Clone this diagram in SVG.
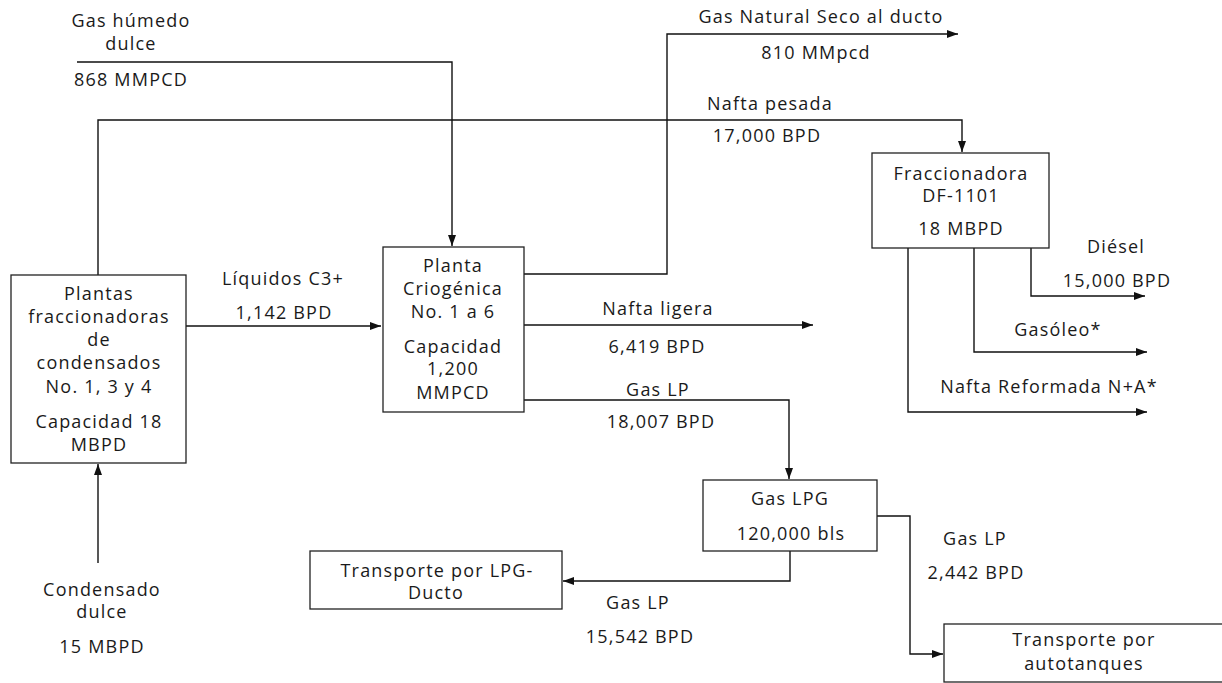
<svg xmlns="http://www.w3.org/2000/svg" width="1222" height="683" viewBox="0 0 1222 683">
<style>
text{font-family:"Open Sans","Noto Sans","Liberation Sans",sans-serif;font-size:18px;letter-spacing:1.2px;fill:#1a1a1a;text-anchor:middle}
.box{fill:#fff;stroke:#222;stroke-width:1.3}
.ln{fill:none;stroke:#111;stroke-width:1.4}
</style>
<defs>
<marker id="ah" markerUnits="userSpaceOnUse" markerWidth="12" markerHeight="8" refX="11" refY="4" orient="auto">
<path d="M0,0 L11,4 L0,8 z" fill="#111"/>
</marker>
</defs>
<rect width="1222" height="683" fill="#fff"/>
<g id="connectors">
<path class="ln" d="M77,62 H452 V246" marker-end="url(#ah)"/>
<path class="ln" d="M98,275 V120 H962 V152" marker-end="url(#ah)"/>
<path class="ln" d="M524,274 H667 V34 H958" marker-end="url(#ah)"/>
<path class="ln" d="M186,326 H381" marker-end="url(#ah)"/>
<path class="ln" d="M524,325 H813" marker-end="url(#ah)"/>
<path class="ln" d="M524,400 H789 V479" marker-end="url(#ah)"/>
<path class="ln" d="M98,563 V464" marker-end="url(#ah)"/>
<path class="ln" d="M790,551 V581 H563" marker-end="url(#ah)"/>
<path class="ln" d="M877,516 H910 V654 H943" marker-end="url(#ah)"/>
<path class="ln" d="M1031,248 V296 H1145" marker-end="url(#ah)"/>
<path class="ln" d="M974,248 V352 H1147" marker-end="url(#ah)"/>
<path class="ln" d="M908,248 V412 H1147" marker-end="url(#ah)"/>
</g>
<g id="labels">
<text x="131" y="27">Gas húmedo</text>
<text x="131" y="50">dulce</text>
<text x="131" y="86">868 MMPCD</text>
<text x="821" y="23">Gas Natural Seco al ducto</text>
<text x="816" y="59">810 MMpcd</text>
<text x="770" y="110">Nafta pesada</text>
<text x="767" y="142">17,000 BPD</text>
<text x="283" y="285">Líquidos C3+</text>
<text x="284" y="319">1,142 BPD</text>
<text x="658" y="315">Nafta ligera</text>
<text x="657" y="353">6,419 BPD</text>
<text x="658" y="396">Gas LP</text>
<text x="661" y="428">18,007 BPD</text>
<text x="1116" y="253">Diésel</text>
<text x="1117" y="287">15,000 BPD</text>
<text x="1058" y="336">Gasóleo*</text>
<text x="1049" y="393">Nafta Reformada N+A*</text>
<text x="975" y="545">Gas LP</text>
<text x="976" y="579">2,442 BPD</text>
<text x="638" y="609">Gas LP</text>
<text x="640" y="643">15,542 BPD</text>
<text x="102" y="596">Condensado</text>
<text x="102" y="618">dulce</text>
<text x="102" y="653">15 MBPD</text>
</g>
<g id="plantas">
<rect class="box" x="11" y="275" width="175" height="188"/>
<text x="99" y="300">Plantas</text>
<text x="99" y="323">fraccionadoras</text>
<text x="99" y="346">de</text>
<text x="99" y="369">condensados</text>
<text x="99" y="393">No. 1, 3 y 4</text>
<text x="99" y="428">Capacidad 18</text>
<text x="99" y="451">MBPD</text>
</g>
<g id="criogenica">
<rect class="box" x="383" y="247" width="141" height="165"/>
<text x="453" y="272">Planta</text>
<text x="453" y="295">Criogénica</text>
<text x="453" y="318">No. 1 a 6</text>
<text x="453" y="353">Capacidad</text>
<text x="453" y="375">1,200</text>
<text x="453" y="399">MMPCD</text>
</g>
<g id="fraccionadora">
<rect class="box" x="872" y="153" width="177" height="95"/>
<text x="961" y="180">Fraccionadora</text>
<text x="961" y="202">DF-1101</text>
<text x="961" y="235">18 MBPD</text>
</g>
<g id="gaslpg">
<rect class="box" x="703" y="480" width="174" height="71"/>
<text x="790" y="505">Gas LPG</text>
<text x="791" y="540">120,000 bls</text>
</g>
<g id="ducto">
<rect class="box" x="310" y="551" width="252" height="58"/>
<text x="437" y="577">Transporte por LPG-</text>
<text x="436" y="599">Ducto</text>
</g>
<g id="autotanques">
<rect class="box" x="944" y="624" width="290" height="58"/>
<text x="1084" y="646">Transporte por</text>
<text x="1084" y="670">autotanques</text>
</g>
</svg>
